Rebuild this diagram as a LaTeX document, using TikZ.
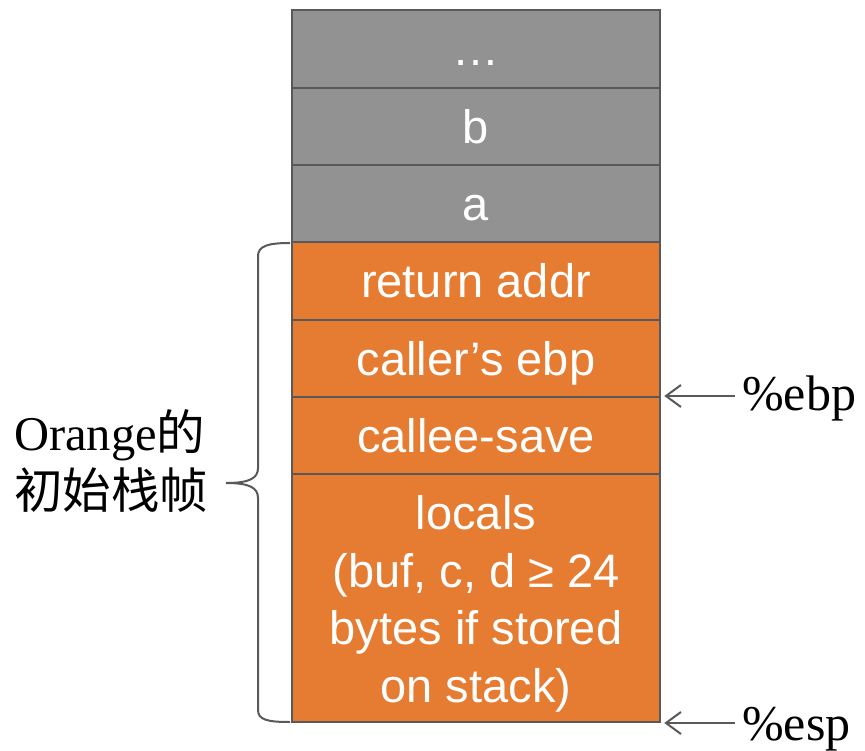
\documentclass[tikz,border=0pt]{standalone}
\usepackage{fontspec}
\setmainfont{Liberation Serif}
\newfontfamily\boxfont{Liberation Sans}
\newfontfamily\cjk{Noto Sans CJK SC}
\usetikzlibrary{arrows.meta}
\definecolor{cellgray}{HTML}{919291}
\definecolor{cellorange}{HTML}{E67C32}
\definecolor{edgegray}{HTML}{595959}
\begin{document}
\begin{tikzpicture}[x=1pt,y=-1pt,
  cell/.style={draw=edgegray, line width=2.5pt, rectangle, minimum width=368pt,
    inner sep=0pt, text=white, font=\boxfont\fontsize{47}{57.5}\selectfont,
    text height=33.7pt, text depth=0pt},
  graycell/.style={cell, fill=cellgray},
  orangecell/.style={cell, fill=cellorange},
  boxtext/.style={inner sep=0pt, text=white, font=\boxfont\fontsize{47}{57.5}\selectfont, align=center},
  lab/.style={inner sep=0pt, text=black, font=\fontsize{48.5}{58}\selectfont},
  rlab/.style={inner sep=0pt, text=black, font=\fontsize{50}{60}\selectfont},
  arr/.style={draw=edgegray, line width=2pt, -{Straight Barb[length=15pt,width=22pt]}},
  bracestyle/.style={draw=edgegray, line width=2pt}
]
\useasboundingbox (0,0) rectangle (865,751);
\node[graycell, minimum height=78pt] (r1) at (476,49) {…};
\node[graycell, minimum height=77pt] (r2) at (476,126.5) {b};
\node[graycell, minimum height=77pt] (r3) at (476,203.5) {a};
\node[orangecell, minimum height=78pt] (r4) at (476,281) {return addr};
\node[orangecell, minimum height=77pt] (r5) at (476,358.5) {caller’s ebp};
\node[orangecell, minimum height=77pt] (r6) at (476,435.5) {callee-save};
\node[orangecell, minimum height=248pt] (r7) at (476,598) {};
\node[boxtext] (loc) at ([yshift=-6pt]r7.center) {locals\\(buf, c, d ≥ 24\\bytes if stored\\on stack)};

% left label
\node[lab, anchor=base west] (lbl1) at (14,450) {Orange{\cjk 的}};
\node[lab, anchor=base west] (lbl2) at (14,508) {\cjk 初始栈帧};

% brace
\draw[bracestyle] (290,243) .. controls (268,243) and (258,246) .. (258,256)
  -- (258,468) .. controls (258,478) and (250,483) .. (226,483)
  .. controls (250,483) and (258,488) .. (258,498)
  -- (258,710) .. controls (258,720) and (268,722) .. (290,722);

% right labels
\node[rlab, anchor=base west] (ebp) at (742,410) {\%ebp};
\node[rlab, anchor=base west] (esp) at (742,740) {\%esp};
\coordinate (ebpfrom) at (735,396);
\coordinate (espfrom) at (735,723);
\draw[arr] (ebpfrom) -- ([xshift=3pt]r5.south east |- ebpfrom);
\draw[arr] (espfrom) -- ([xshift=3pt]r7.south east |- espfrom);
\end{tikzpicture}
\end{document}
